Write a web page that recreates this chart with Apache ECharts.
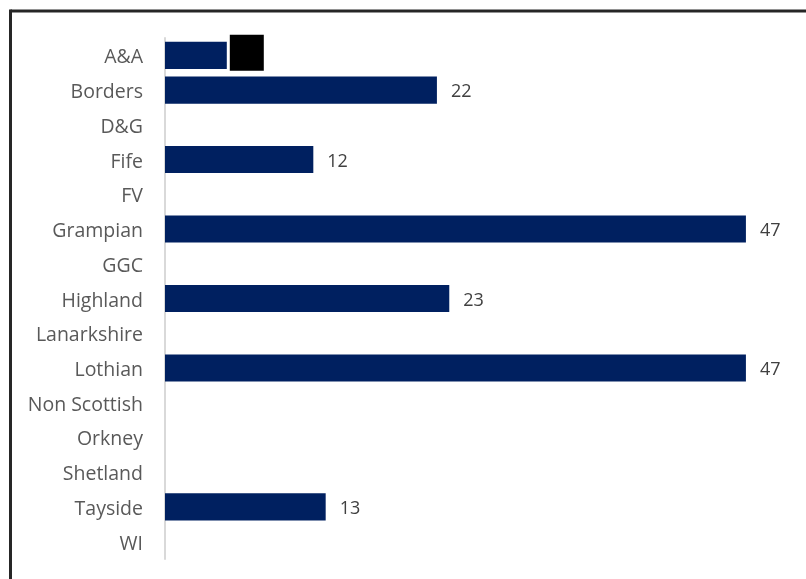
<!DOCTYPE html>
<html>
<head>
<meta charset="utf-8">
<script src="https://cdn.jsdelivr.net/npm/echarts@6/dist/echarts.min.js"></script>
<style>
  html, body { margin: 0; padding: 0; background: #fff; }
  #chart { width: 806px; height: 579px; }
</style>
</head>
<body>
<div id="chart"></div>
<script>
// Health boards, listed top to bottom
const boards = ['A&A', 'Borders', 'D&G', 'Fife', 'FV', 'Grampian', 'GGC', 'Highland',
  'Lanarkshire', 'Lothian', 'Non Scottish', 'Orkney', 'Shetland', 'Tayside', 'WI'];
// Counts per board (null = no bar)
const counts = [5, 22, null, 12, null, 47, null, 23, null, 47, null, null, null, 13, null];
// Boards whose value label is suppressed (drawn as a solid block)
const suppressed = ['A&A'];

const chart = echarts.init(document.getElementById('chart'), null, { renderer: 'canvas' });

const seriesData = counts.map((v, i) => {
  if (v === null) return null;
  const item = { value: v };
  if (suppressed.includes(boards[i])) {
    item.label = {
      color: '#000',
      backgroundColor: '#000',
      width: 24,
      height: 26,
      padding: [5, 5, 5, 5],
      distance: 3,
      offset: [0, -2.5]
    };
  }
  return item;
});

chart.setOption({
  backgroundColor: '#fff',
  animation: false,
  grid: { left: 165, right: 23, top: 38, bottom: 20, containLabel: false },
  xAxis: {
    type: 'value',
    min: 0,
    max: 50,
    show: false
  },
  yAxis: {
    type: 'category',
    data: boards,
    inverse: true,
    axisLine: { show: true, lineStyle: { color: '#d9d9d9', width: 2 } },
    axisTick: { show: false },
    axisLabel: {
      color: '#595959',
      fontFamily: 'Open Sans',
      fontSize: 19.5,
      margin: 22,
      formatter: name => '{b|' + name + '}',
      rich: {
        b: {
          color: '#595959',
          fontFamily: 'Open Sans',
          fontSize: 19.5,
          padding: [5, 0, 0, 0]
        }
      }
    },
    splitLine: { show: false }
  },
  series: [{
    type: 'bar',
    data: seriesData,
    barWidth: '78%',
    itemStyle: { color: '#002060' },
    label: {
      show: true,
      position: 'right',
      distance: 14,
      offset: [0, 2],
      color: '#404040',
      fontFamily: 'Open Sans',
      fontSize: 18,
      formatter: '{c}'
    }
  }],
  graphic: [
    { type: 'line', shape: { x1: 10.5, y1: 11, x2: 806, y2: 11 }, style: { stroke: '#262626', lineWidth: 3 } },
    { type: 'line', shape: { x1: 10.5, y1: 9.5, x2: 10.5, y2: 579 }, style: { stroke: '#262626', lineWidth: 3 } }
  ]
});
</script>
</body>
</html>
